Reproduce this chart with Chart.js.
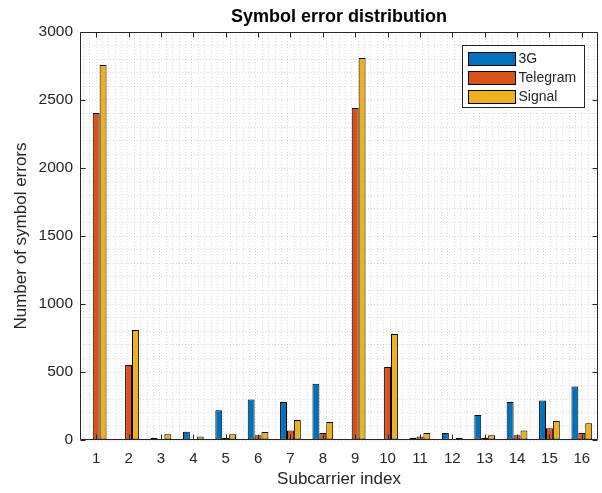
<!DOCTYPE html>
<html>
<head>
<meta charset="utf-8">
<script src="https://cdn.jsdelivr.net/npm/chart.js@4.4.1/dist/chart.umd.min.js"></script>
<style>
  html, body { margin: 0; padding: 0; background: #ffffff; }
  #wrap { width: 602px; height: 493px; }
</style>
</head>
<body>
<div id="wrap"><canvas id="c" width="602" height="493"></canvas></div>
<script>
const categories = ['1','2','3','4','5','6','7','8','9','10','11','12','13','14','15','16'];
const series3G       = [0, 5, 15, 61, 219, 297, 280, 413, 0, 5, 15, 52, 184, 280, 290, 393];
const seriesTelegram = [2405, 552, 5, 8, 15, 35, 69, 52, 2441, 537, 25, 8, 17, 35, 86, 52];
const seriesSignal   = [2758, 809, 42, 25, 42, 59, 147, 133, 2809, 780, 52, 17, 35, 69, 140, 123];
const seriesNames = ['3G', 'Telegram', 'Signal'];
const seriesColors = ['#0072BD', '#D95319', '#EDB120'];
const yMax = 3000;
const yMajorStep = 500;
const yMinorStep = 100;

const FONT = "'Liberation Sans', Arial, Helvetica, sans-serif";
const TXT = '#262626';

const boxPlugin = {
  id: 'boxTicks',
  afterDatasetsDraw(chart) {
    const {ctx, chartArea: a, scales} = chart;
    const L = Math.round(a.left) + 0.5, R = Math.round(a.right) - 0.5;
    const T = Math.round(a.top) + 0.5, B = Math.round(a.bottom) - 0.5;
    ctx.save();
    ctx.strokeStyle = TXT;
    ctx.lineWidth = 1;
    ctx.beginPath();
    ctx.rect(L, T, R - L, B - T);
    ctx.stroke();
    const tl = 5;
    ctx.beginPath();
    categories.forEach((c, i) => {
      const px = Math.round(scales.x.getPixelForValue(i)) + 0.5;
      ctx.moveTo(px, B); ctx.lineTo(px, B - tl);
      ctx.moveTo(px, T); ctx.lineTo(px, T + tl);
    });
    for (let v = 0; v <= yMax; v += yMajorStep) {
      const py = Math.round(scales.y.getPixelForValue(v)) + 0.5;
      ctx.moveTo(L, py); ctx.lineTo(L + tl, py);
      ctx.moveTo(R, py); ctx.lineTo(R - tl, py);
    }
    ctx.stroke();
    ctx.restore();
  },
  afterDraw(chart) {
    const {ctx, chartArea: a} = chart;
    const bx1 = Math.round(a.right) - 13 - 0.5;
    const bx0 = bx1 - 122;
    const by0 = Math.round(a.top) + 13 + 0.5;
    const by1 = by0 + 62;
    ctx.save();
    ctx.fillStyle = '#ffffff';
    ctx.fillRect(bx0, by0, bx1 - bx0, by1 - by0);
    ctx.strokeStyle = TXT;
    ctx.lineWidth = 1;
    ctx.strokeRect(bx0, by0, bx1 - bx0, by1 - by0);
    ctx.font = '14px ' + FONT;
    ctx.textBaseline = 'middle';
    ctx.textAlign = 'left';
    chart.data.datasets.forEach((ds, i) => {
      const sy = by0 + 6 + i * 19.3;
      const sx = bx0 + 5;
      ctx.fillStyle = ds.backgroundColor;
      ctx.fillRect(Math.round(sx), Math.round(sy), 47, 13);
      ctx.strokeStyle = '#000';
      ctx.strokeRect(Math.round(sx) + 0.5, Math.round(sy) + 0.5, 47, 13);
      ctx.fillStyle = TXT;
      ctx.fillText(ds.label, sx + 51, sy + 7.5);
    });
    ctx.restore();
  }
};

const datasets = [series3G, seriesTelegram, seriesSignal].map((vals, i) => ({
  label: seriesNames[i],
  data: vals,
  backgroundColor: seriesColors[i],
  borderColor: '#000000',
  borderWidth: 1,
  borderSkipped: false,
  categoryPercentage: 0.64,
  barPercentage: 1.0,
  xAxisID: 'x',
  yAxisID: 'y'
}));

new Chart(document.getElementById('c'), {
  type: 'bar',
  data: { labels: categories, datasets },
  options: {
    responsive: false,
    animation: false,
    devicePixelRatio: 1,
    layout: { padding: { left: 0, right: 4, top: 0, bottom: 0 } },
    plugins: {
      legend: { display: false },
      tooltip: { enabled: false },
      title: {
        display: true,
        fullSize: false,
        text: 'Symbol error distribution',
        color: '#000000',
        font: { family: FONT, size: 18, weight: 'bold' },
        padding: { top: 6, bottom: 4.4 }
      }
    },
    scales: {
      xg: {
        type: 'linear',
        position: 'bottom',
        min: 0.5,
        max: 16.5,
        afterBuildTicks(scale) {
          const t = [];
          for (let k = 3; k < 83; k++) t.push({ value: k / 5 });
          scale.ticks = t;
        },
        afterFit(scale) { scale.height = 0; },
        ticks: { display: false },
        grid: { color: 'rgba(0,0,0,0.14)', lineWidth: 1, drawTicks: false },
        border: { display: false, dash: [1, 2] }
      },
      x: {
        type: 'category',
        position: 'bottom',
        offset: true,
        afterFit(scale) { scale.height = 53; },
        grid: { display: false, drawTicks: false },
        border: { display: false },
        ticks: { color: TXT, font: { family: FONT, size: 15 }, padding: 10, maxRotation: 0, autoSkip: false },
        title: {
          display: true,
          text: 'Subcarrier index',
          color: TXT,
          font: { family: FONT, size: 17 },
          padding: { top: 0, bottom: 3 }
        }
      },
      y: {
        type: 'linear',
        position: 'left',
        min: 0,
        max: yMax,
        afterFit(scale) { scale.width = 80; },
        ticks: {
          stepSize: yMinorStep,
          autoSkip: false,
          color: TXT,
          font: { family: FONT, size: 15.5 },
          padding: 7,
          callback: (v) => (v % yMajorStep === 0 ? String(v) : '')
        },
        grid: { color: 'rgba(0,0,0,0.14)', lineWidth: 1, drawTicks: false },
        border: { display: false, dash: [1, 2] },
        title: {
          display: true,
          text: 'Number of symbol errors',
          color: TXT,
          font: { family: FONT, size: 17 },
          padding: { top: 11, bottom: 0 }
        }
      }
    }
  },
  plugins: [boxPlugin]
});
</script>
</body>
</html>
